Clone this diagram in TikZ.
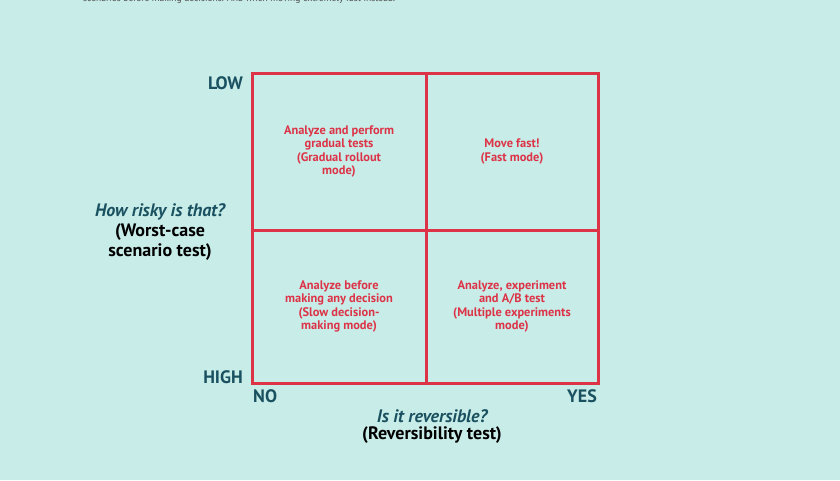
\documentclass[tikz,border=0pt]{standalone}
\usepackage{fontspec}
\setmainfont{PT Sans}
\usepackage{tikz}
\usetikzlibrary{positioning}

\definecolor{bgteal}{HTML}{C8ECE8}
\definecolor{gridred}{HTML}{DD3347}
\definecolor{labelteal}{HTML}{1A5160}

\tikzset{
  cell/.style={draw=gridred, line width=3pt, text=gridred, align=center,
    font=\fontsize{12.4}{13.3}\selectfont\bfseries, inner sep=0pt},
  axis/.style={text=labelteal, font=\fontsize{18}{19}\selectfont\bfseries, inner sep=0pt},
  question/.style={text=labelteal, font=\fontsize{18}{19}\selectfont\bfseries\itshape, inner sep=0pt},
  testname/.style={text=black, align=center, font=\fontsize{18}{19.5}\selectfont\bfseries, inner sep=0pt}
}

\begin{document}
\begin{tikzpicture}[x=1pt, y=-1pt]
  \useasboundingbox[fill=bgteal] (0,0) rectangle (840,480);
  \node[anchor=base west, text=black!70, font=\fontsize{9.5}{11}\selectfont, inner sep=0pt] (intro) at (83,1.5)
    {scenarios before making decisions. And when moving extremely fast instead.};

  % the four quadrants
  \node[cell, minimum width=174pt, minimum height=157pt] (slowroll) at (339,151.5)
    {Analyze and perform\\gradual tests\\(Gradual rollout\\mode)};
  \node[cell, minimum width=172pt, minimum height=157pt] (fast) at (512,151.5)
    {Move fast!\\(Fast mode)};
  \node[cell, minimum width=174pt, minimum height=153pt] (slow) at (339,306.5)
    {Analyze before\\making any decision\\(Slow decision-\\making mode)};
  \node[cell, minimum width=172pt, minimum height=153pt] (multi) at (512,306.5)
    {Analyze, experiment\\and A/B test\\(Multiple experiments\\mode)};

  % axis ends
  \node[axis, anchor=east] (low) at (243,83) {LOW};
  \node[axis, anchor=east] (high) at (243,377) {HIGH};
  \node[axis, anchor=west] (no) at (253,396) {NO};
  \node[axis, anchor=east] (yes) at (597,396) {YES};

  % axis titles
  \node[question] (risky) at (160,211.5) {How risky is that?};
  \node[testname, below=4pt of risky] (worst) {(Worst-case\\scenario test)};
  \node[question] (revers) at (432,416) {Is it reversible?};
  \node[testname, below=4pt of revers] (revtest) {(Reversibility test)};
\end{tikzpicture}
\end{document}
